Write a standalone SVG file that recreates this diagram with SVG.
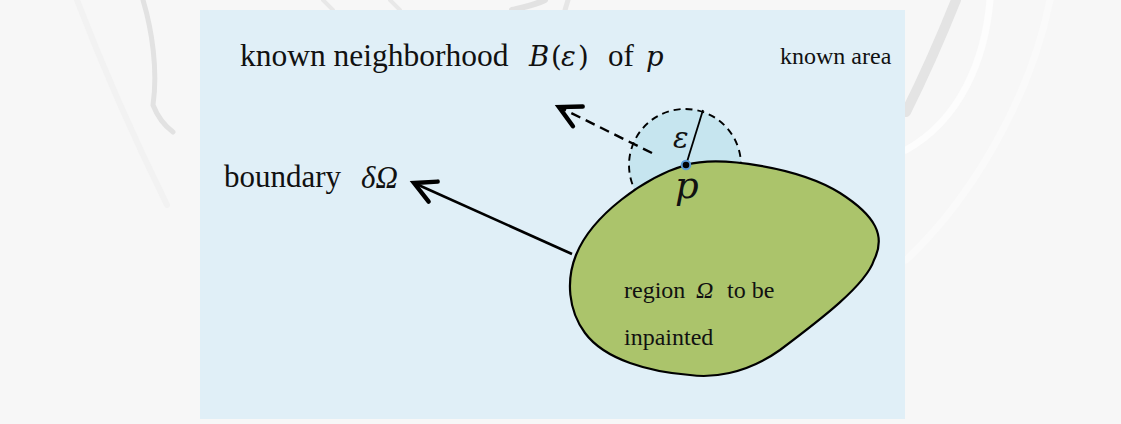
<svg xmlns="http://www.w3.org/2000/svg" width="1121" height="424" viewBox="0 0 1121 424">
  <defs>
    <style>
      .txt { font-family: "Liberation Serif", "Times New Roman", serif; fill: #111; }
      .math { font-family: "DejaVu Serif", "Liberation Serif", serif; font-style: italic; fill: #111; }
      .mathup { font-family: "DejaVu Serif", "Liberation Serif", serif; fill: #111; }
      .mi { font-family: "Liberation Serif", "Times New Roman", serif; font-style: italic; fill: #111; }
      .wm { fill: none; stroke-linecap: round; }
    </style>
    <marker id="openArrow" markerUnits="userSpaceOnUse" markerWidth="40" markerHeight="40" viewBox="-30 -20 40 40" refX="0" refY="0" orient="auto">
      <path d="M -21,-11 L 0,0 L -21,11" fill="none" stroke="#000" stroke-width="4.4" stroke-dasharray="none" stroke-linecap="round" stroke-linejoin="miter"/>
    </marker>
  </defs>

  <!-- page background with faint watermark -->
  <rect x="0" y="0" width="1121" height="424" fill="#f7f7f7"/>
  <g id="watermark">
    <path class="wm" d="M 143,0 C 152,30 158,70 153,105 C 158,118 165,126 173,132" stroke="#e2e2e2" stroke-width="5"/>
    <path class="wm" d="M 77,0 C 100,60 130,130 167,205" stroke="#f2f2f2" stroke-width="6"/>
    <path class="wm" d="M 956,0 C 940,40 922,80 906,112" stroke="#e4e4e4" stroke-width="10"/>
    <path class="wm" d="M 990,0 C 985,60 960,120 906,150" stroke="#fdfdfd" stroke-width="7"/>
    <path class="wm" d="M 1050,0 C 1030,100 970,200 906,260" stroke="#fafafa" stroke-width="7"/>
    <path class="wm" d="M 323,0 L 333,10" stroke="#e8e8e8" stroke-width="4"/>
    <path class="wm" d="M 390,0 L 400,10" stroke="#e8e8e8" stroke-width="4"/>
    <path class="wm" d="M 545,0 C 535,5 520,8 512,10" stroke="#e2e2e2" stroke-width="6"/>
    <path class="wm" d="M 568,0 L 565,10" stroke="#e6e6e6" stroke-width="5"/>
  </g>

  <!-- known area panel -->
  <g id="known-area">
    <rect x="200" y="10" width="705" height="409" fill="#e0eff7"/>
    <text class="txt" x="780" y="64" font-size="24">known area</text>
  </g>

  <!-- neighborhood disc -->
  <g id="neighborhood">
    <circle cx="685" cy="165" r="56" fill="#c6e5ef" stroke="#000" stroke-width="1.9" stroke-dasharray="7 5"/>
  </g>

  <!-- region to be inpainted -->
  <g id="region">
    <path d="M 686,165 C 720,155 800,168 840,193 C 876,216 886,236 874,260 C 866,285 820,320 780,350 C 745,375 710,378 690,375 C 650,372 605,360 585,333 C 568,310 566,280 576,255 C 592,215 645,177 686,165 Z" fill="#abc46b" stroke="#000" stroke-width="2.2"/>
    <text class="txt" x="624" y="298" font-size="24">region</text>
    <text class="mi" x="696" y="298" font-size="24">Ω</text>
    <text class="txt" x="727" y="298" font-size="24">to be</text>
    <text class="txt" x="624" y="345" font-size="24">inpainted</text>
  </g>

  <!-- radius and point p -->
  <g id="point-p">
    <line x1="686" y1="165" x2="703" y2="110" stroke="#000" stroke-width="1.8"/>
    <text class="math" x="673" y="148" font-size="29">ε</text>
    <circle cx="686" cy="165" r="4.3" fill="#000" stroke="#5b9bd5" stroke-width="2"/>
    <text class="math" x="675" y="198" font-size="37">p</text>
  </g>

  <!-- labels -->
  <g id="label-neighborhood">
    <text class="txt" x="240" y="66" font-size="31.5">known neighborhood</text>
    <text class="math" x="529" y="66" font-size="27.5">B</text>
    <text class="mathup" x="551" y="66" font-size="27.5">(</text>
    <text class="math" x="561" y="66" font-size="27.5">ε</text>
    <text class="mathup" x="578" y="66" font-size="27.5">)</text>
    <text class="txt" x="608" y="66" font-size="31">of</text>
    <text class="math" x="646" y="66" font-size="27.5">p</text>
  </g>
  <g id="label-boundary">
    <text class="txt" x="224" y="187" font-size="31">boundary</text>
    <text class="mi" x="361" y="188" font-size="31">δΩ</text>
  </g>

  <!-- connectors -->
  <g id="connectors">
    <line x1="572" y1="254" x2="414" y2="183" stroke="#000" stroke-width="2.6" marker-end="url(#openArrow)"/>
    <line x1="652" y1="153" x2="559" y2="107" stroke="#000" stroke-width="2.4" stroke-dasharray="10 6" marker-end="url(#openArrow)"/>
  </g>
</svg>
